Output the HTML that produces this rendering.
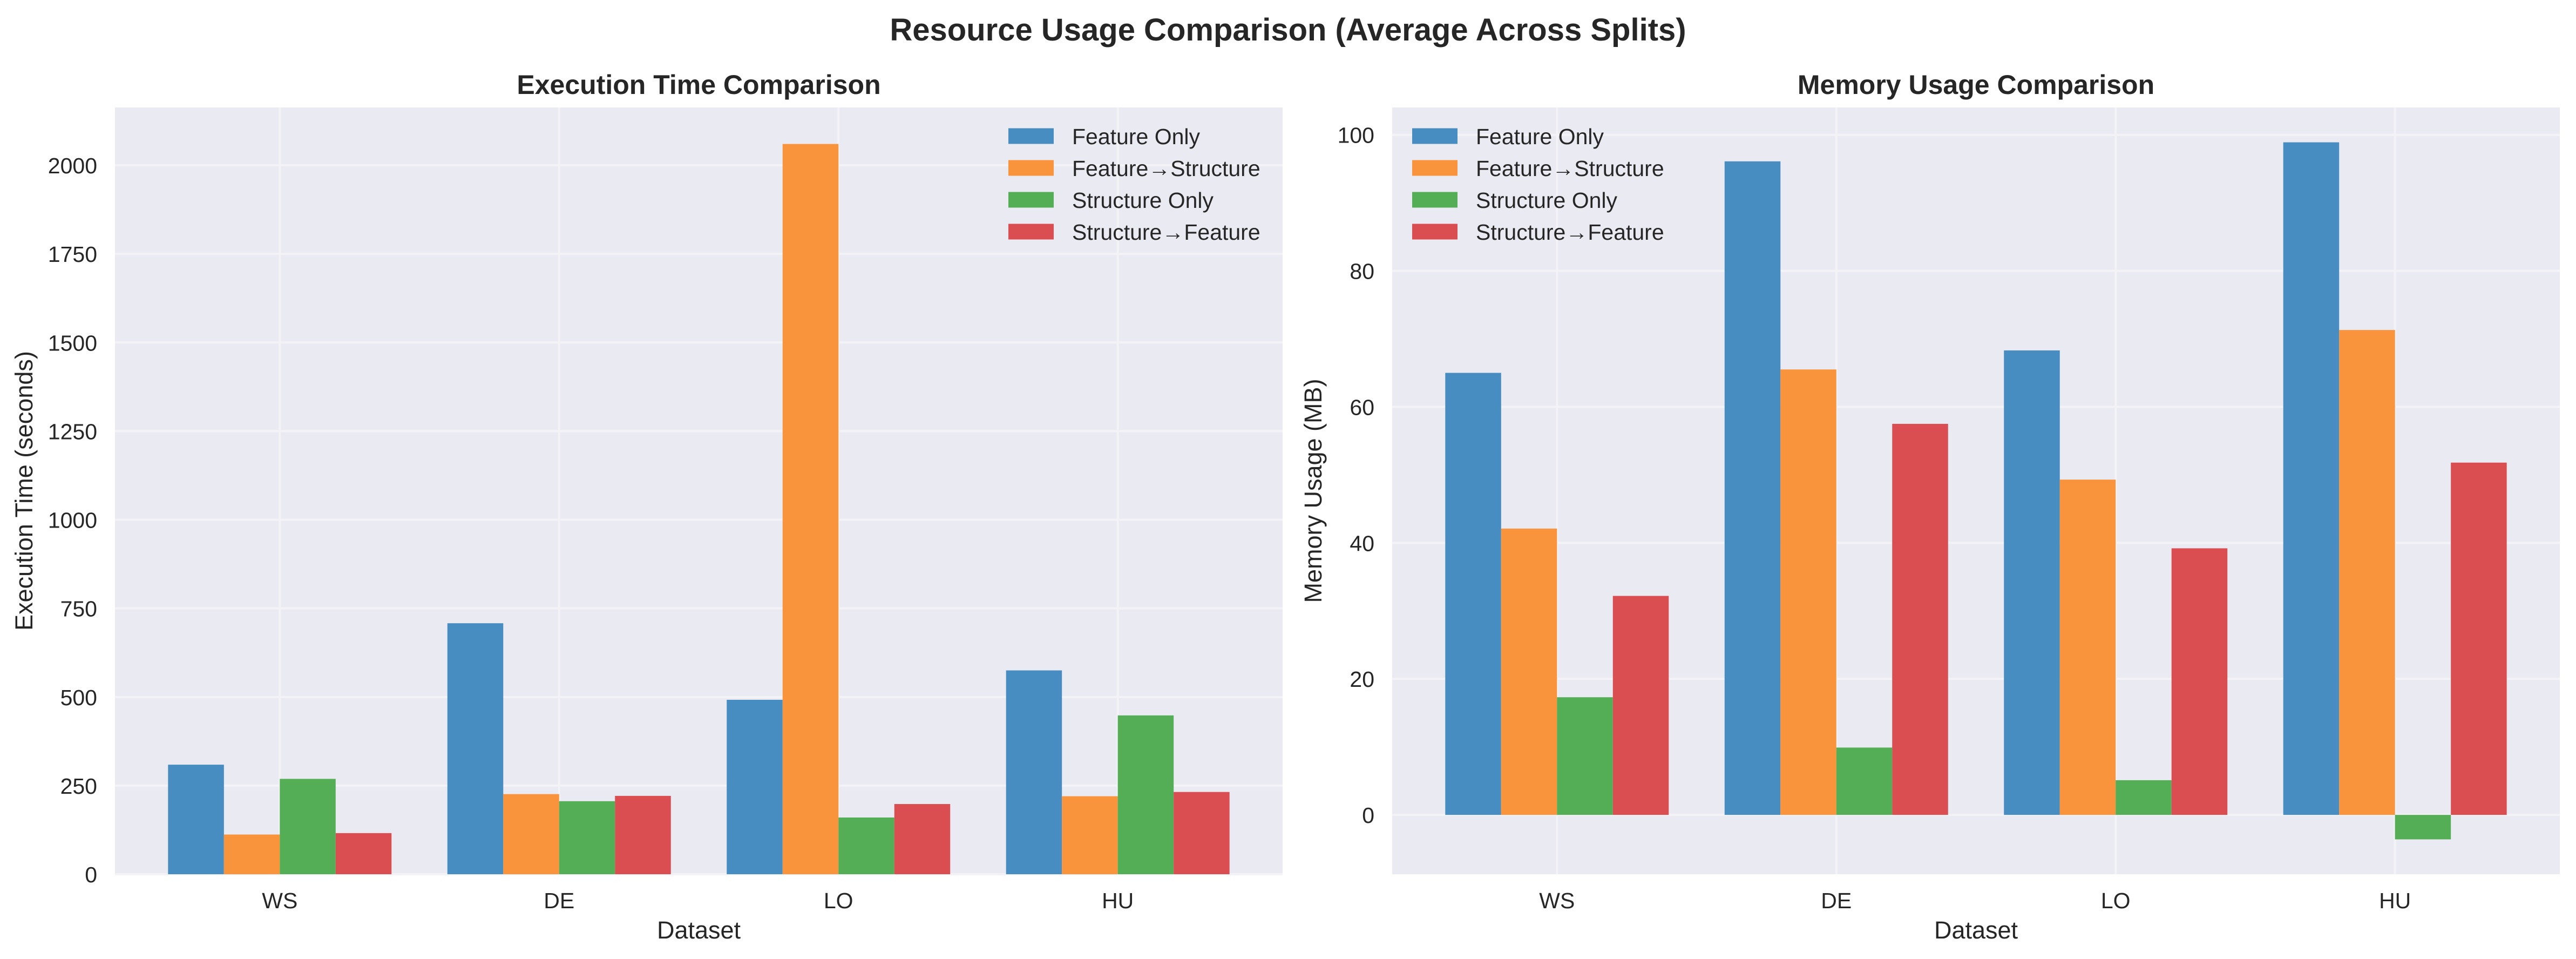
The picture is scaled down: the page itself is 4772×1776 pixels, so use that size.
<!DOCTYPE html>
<html><head><meta charset="utf-8"><style>
html,body{margin:0;padding:0;background:#fff;}
svg{display:block;font-family:"Liberation Sans",Arial,sans-serif;}
</style></head><body>
<svg id="fig" width="4772" height="1776" viewBox="0 0 4772 1776" xmlns="http://www.w3.org/2000/svg">
<rect x="0" y="0" width="4772" height="1776" fill="#ffffff"/>
<text x="2386" y="75" text-anchor="middle" font-size="58" font-weight="bold" fill="#262626">Resource Usage Comparison (Average Across Splits)</text>
</svg>
<script>
const categories = ["WS","DE","LO","HU"];
const seriesNames = ["Feature Only","Feature\u2192Structure","Structure Only","Structure\u2192Feature"];
const timeFeatureOnly = [309, 708, 492, 575];
const timeFeatureStructure = [112, 226, 2060, 220];
const timeStructureOnly = [269, 206, 160, 448];
const timeStructureFeature = [116, 221, 198, 232];
const memFeatureOnly = [65.0, 96.1, 68.3, 98.9];
const memFeatureStructure = [42.1, 65.5, 49.3, 71.3];
const memStructureOnly = [17.3, 9.9, 5.1, -3.6];
const memStructureFeature = [32.2, 57.5, 39.2, 51.8];
const timeTicks = [0,250,500,750,1000,1250,1500,1750,2000];
const memTicks = [0,20,40,60,80,100];

const colors = ["#488dc1","#f9943c","#53ae55","#da4e52"];
const NS = "http://www.w3.org/2000/svg";
const svg = document.getElementById("fig");
function mk(tag, attrs, parent){const e=document.createElementNS(NS,tag);for(const k in attrs)e.setAttribute(k,attrs[k]);(parent||svg).appendChild(e);return e;}

function drawPanel(cfg){
  const L=cfg.left,R=cfg.right,T=199,B=1619;
  const g=mk("g",{});
  
  
  const all=[].concat(...cfg.series);
  let dmin=Math.min(0,...all), dmax=Math.max(0,...all);
  const pad=(dmax-dmin)*0.05;
  const ymin = dmin<0 ? dmin-pad : 0;
  const ymax = dmax+pad;
  const y=v=>B-(v-ymin)/(ymax-ymin)*(B-T);
  const xmin=-0.59,xmax=categories.length-1+0.59;
  const x=v=>L+(v-xmin)/(xmax-xmin)*(R-L);
  const bg=mk("rect",{x:L,y:T,width:R-L,height:B-T,fill:"#eaeaf2"},g);
  
  
  cfg.ticks.forEach(t=>{
    const yy=y(t);
    mk("line",{x1:L,x2:R,y1:yy,y2:yy,stroke:"#f3f3f7","stroke-width":4},g);
    const tl=mk("text",{x:L-33,y:yy+15,"text-anchor":"end","font-size":41,fill:"#262626"},g);
    tl.textContent=String(t);
    
    
  });
  categories.forEach((c,i)=>{
    const xx=x(i);
    mk("line",{x1:xx,x2:xx,y1:T,y2:B,stroke:"#f3f3f7","stroke-width":4},g);
    const tl=mk("text",{x:xx,y:1682,"text-anchor":"middle","font-size":41,fill:"#262626"},g);
    tl.textContent=c;
    
    
  });
  cfg.series.forEach((arr,s)=>{
    arr.forEach((v,i)=>{
      const x0=x(i+(s-2)*0.2), x1=x(i+(s-1)*0.2);
      const y0=y(Math.max(v,0)), y1=y(Math.min(v,0));
      const r=mk("rect",{x:x0,y:y0,width:x1-x0,height:y1-y0,fill:colors[s]},g);
      
      
    });
  });
  const tt=mk("text",{x:(L+R)/2,y:174,"text-anchor":"middle","font-size":50,"font-weight":"bold",fill:"#262626"},g);
  tt.textContent=cfg.title;
  
  
  const xl=mk("text",{x:(L+R)/2,y:1738,"text-anchor":"middle","font-size":45,fill:"#262626"},g);
  xl.textContent="Dataset";
  
  
  const yl=mk("text",{x:0,y:0,"text-anchor":"middle","font-size":45,fill:"#262626",transform:`translate(${cfg.ylabelX},${(T+B)/2}) rotate(-90)`},g);
  yl.textContent=cfg.ylabel;
  
  
  const rows=[252,311,370,429];
  seriesNames.forEach((n,s)=>{
    const lg=mk("g",{},g);
    
    
    mk("rect",{x:cfg.legendX,y:rows[s]-14.5,width:84,height:29,fill:colors[s]},lg);
    const t=mk("text",{x:cfg.legendX+118,y:rows[s]+15,"font-size":41,fill:"#262626"},lg);
    t.textContent=n;
  });
}
drawPanel({name:"execution-time-chart",left:213,right:2376,series:[timeFeatureOnly,timeFeatureStructure,timeStructureOnly,timeStructureFeature],ticks:timeTicks,title:"Execution Time Comparison",ylabel:"Execution Time (seconds)",ylabelX:60,legendX:1868});
drawPanel({name:"memory-usage-chart",left:2579,right:4742,series:[memFeatureOnly,memFeatureStructure,memStructureOnly,memStructureFeature],ticks:memTicks,title:"Memory Usage Comparison",ylabel:"Memory Usage (MB)",ylabelX:2448,legendX:2616});
</script>
</body></html>
